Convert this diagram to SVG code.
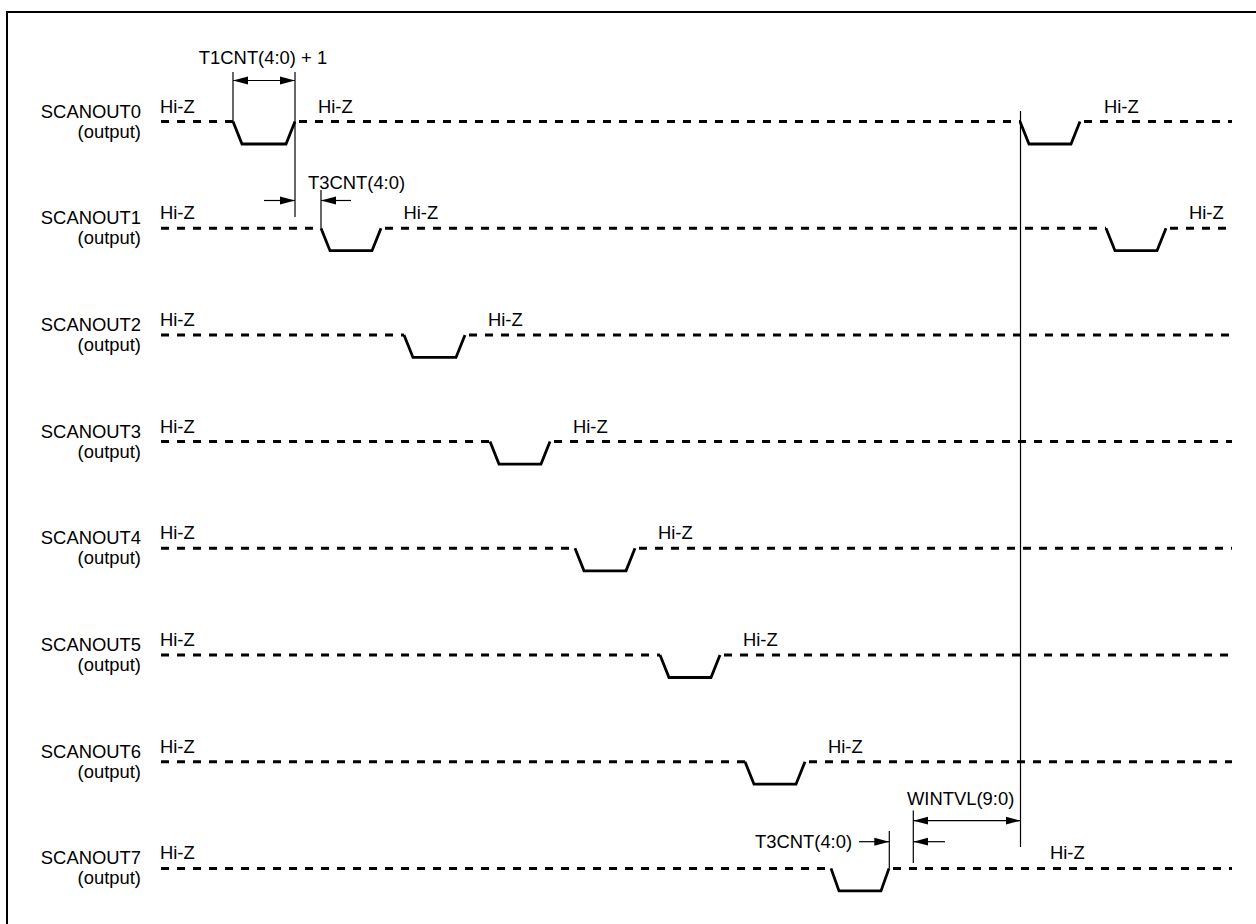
<svg xmlns="http://www.w3.org/2000/svg" width="1256" height="924" viewBox="0 0 1256 924">
<style>
text{font-family:"Liberation Sans",Arial,sans-serif;font-size:18.4px;fill:#000}
.lbl{text-anchor:end}
.dash{fill:none;stroke:#000;stroke-width:3;stroke-dasharray:8 8}
.pulse{fill:none;stroke:#000;stroke-width:2.8;stroke-linejoin:miter}
.thin{fill:none;stroke:#000;stroke-width:1.2}
.arr{fill:none;stroke:#000;stroke-width:1.2;marker-end:url(#ah)}
.darr{fill:none;stroke:#000;stroke-width:1.2;marker-start:url(#ah);marker-end:url(#ah)}
</style>
<defs>
<marker id="ah" markerUnits="userSpaceOnUse" markerWidth="18" markerHeight="10" refX="15" refY="4.5" orient="auto-start-reverse">
<path d="M0,0.5 L15,4.5 L0,8.5 z" fill="#000"/>
</marker>
</defs>
<rect x="7" y="12" width="1270" height="940" fill="#fff" stroke="#000" stroke-width="2"/>

<g id="scanout0">
<text class="lbl" x="141" y="117.5">SCANOUT0</text>
<text class="lbl" x="141" y="137.5">(output)</text>
<text x="160" y="112.5">Hi-Z</text>
<text x="318" y="112.5">Hi-Z</text>
<text x="1104" y="112.5">Hi-Z</text>
<line class="dash" x1="161" y1="121.5" x2="233" y2="121.5"/>
<path class="pulse" d="M233,121.5 L242,144 L286,144 L295,121.5"/>
<line class="dash" x1="299" y1="121.5" x2="1020" y2="121.5"/>
<path class="pulse" d="M1020,121.5 L1029,144 L1071,144 L1080,121.5"/>
<line class="dash" x1="1084" y1="121.5" x2="1232" y2="121.5"/>
</g>

<g id="scanout1">
<text class="lbl" x="141" y="224.2">SCANOUT1</text>
<text class="lbl" x="141" y="244.2">(output)</text>
<text x="160" y="219.2">Hi-Z</text>
<text x="403.5" y="219.2">Hi-Z</text>
<text x="1189" y="219.2">Hi-Z</text>
<line class="dash" x1="161" y1="228.2" x2="321" y2="228.2"/>
<path class="pulse" d="M321,228.2 L330,250.7 L372,250.7 L381,228.2"/>
<line class="dash" x1="385" y1="228.2" x2="1106" y2="228.2"/>
<path class="pulse" d="M1106,228.2 L1115,250.7 L1157,250.7 L1166,228.2"/>
<line class="dash" x1="1170" y1="228.2" x2="1232" y2="228.2"/>
</g>

<g id="scanout2">
<text class="lbl" x="141" y="330.9">SCANOUT2</text>
<text class="lbl" x="141" y="350.9">(output)</text>
<text x="160" y="325.9">Hi-Z</text>
<text x="488" y="325.9">Hi-Z</text>
<line class="dash" x1="161" y1="334.9" x2="404" y2="334.9"/>
<path class="pulse" d="M404,334.9 L413,357.4 L456,357.4 L465,334.9"/>
<line class="dash" x1="469" y1="334.9" x2="1232" y2="334.9"/>
</g>

<g id="scanout3">
<text class="lbl" x="141" y="437.6">SCANOUT3</text>
<text class="lbl" x="141" y="457.6">(output)</text>
<text x="160" y="432.6">Hi-Z</text>
<text x="573" y="432.6">Hi-Z</text>
<line class="dash" x1="161" y1="441.6" x2="490" y2="441.6"/>
<path class="pulse" d="M490,441.6 L499,464.1 L541,464.1 L550,441.6"/>
<line class="dash" x1="554" y1="441.6" x2="1232" y2="441.6"/>
</g>

<g id="scanout4">
<text class="lbl" x="141" y="544.3">SCANOUT4</text>
<text class="lbl" x="141" y="564.3">(output)</text>
<text x="160" y="539.3">Hi-Z</text>
<text x="658" y="539.3">Hi-Z</text>
<line class="dash" x1="161" y1="548.3" x2="575" y2="548.3"/>
<path class="pulse" d="M575,548.3 L584,570.8 L626,570.8 L635,548.3"/>
<line class="dash" x1="639" y1="548.3" x2="1232" y2="548.3"/>
</g>

<g id="scanout5">
<text class="lbl" x="141" y="651">SCANOUT5</text>
<text class="lbl" x="141" y="671">(output)</text>
<text x="160" y="646">Hi-Z</text>
<text x="743" y="646">Hi-Z</text>
<line class="dash" x1="161" y1="655" x2="660" y2="655"/>
<path class="pulse" d="M660,655 L669,677.5 L711,677.5 L720,655"/>
<line class="dash" x1="724" y1="655" x2="1232" y2="655"/>
</g>

<g id="scanout6">
<text class="lbl" x="141" y="757.7">SCANOUT6</text>
<text class="lbl" x="141" y="777.7">(output)</text>
<text x="160" y="752.7">Hi-Z</text>
<text x="828" y="752.7">Hi-Z</text>
<line class="dash" x1="161" y1="761.7" x2="745" y2="761.7"/>
<path class="pulse" d="M745,761.7 L754,784.2 L796,784.2 L805,761.7"/>
<line class="dash" x1="809" y1="761.7" x2="1232" y2="761.7"/>
</g>

<g id="scanout7">
<text class="lbl" x="141" y="864.4">SCANOUT7</text>
<text class="lbl" x="141" y="884.4">(output)</text>
<text x="160" y="859.4">Hi-Z</text>
<text x="1050" y="859.4">Hi-Z</text>
<line class="dash" x1="161" y1="868.4" x2="831" y2="868.4"/>
<path class="pulse" d="M831,868.4 L839,890.9 L881,890.9 L889,868.4"/>
<line class="dash" x1="893" y1="868.4" x2="1232" y2="868.4"/>
</g>

<g id="connectors">
<line class="thin" x1="233" y1="72" x2="233" y2="121.5"/>
<line class="thin" x1="295" y1="72" x2="295" y2="217"/>
<line class="darr" x1="233" y1="80.5" x2="295" y2="80.5"/>
<line class="thin" x1="321" y1="190" x2="321" y2="228.2"/>
<line class="arr" x1="264" y1="200.5" x2="295" y2="200.5"/>
<line class="arr" x1="351" y1="200.5" x2="321" y2="200.5"/>
<line class="thin" x1="1020.5" y1="111" x2="1020.5" y2="847"/>
<line class="thin" x1="913.3" y1="810.5" x2="913.3" y2="863"/>
<line class="thin" x1="889.3" y1="831" x2="889.3" y2="868.4"/>
<line class="darr" x1="913.3" y1="820.7" x2="1020.5" y2="820.7"/>
<line class="arr" x1="859" y1="841.7" x2="889.3" y2="841.7"/>
<line class="arr" x1="945" y1="841.7" x2="913.3" y2="841.7"/>
</g>

<g id="labels">
<text x="263" y="63.5" text-anchor="middle">T1CNT(4:0) + 1</text>
<text x="308" y="188.5">T3CNT(4:0)</text>
<text x="907" y="805">WINTVL(9:0)</text>
<text x="755" y="847.5">T3CNT(4:0)</text>
</g>
</svg>
